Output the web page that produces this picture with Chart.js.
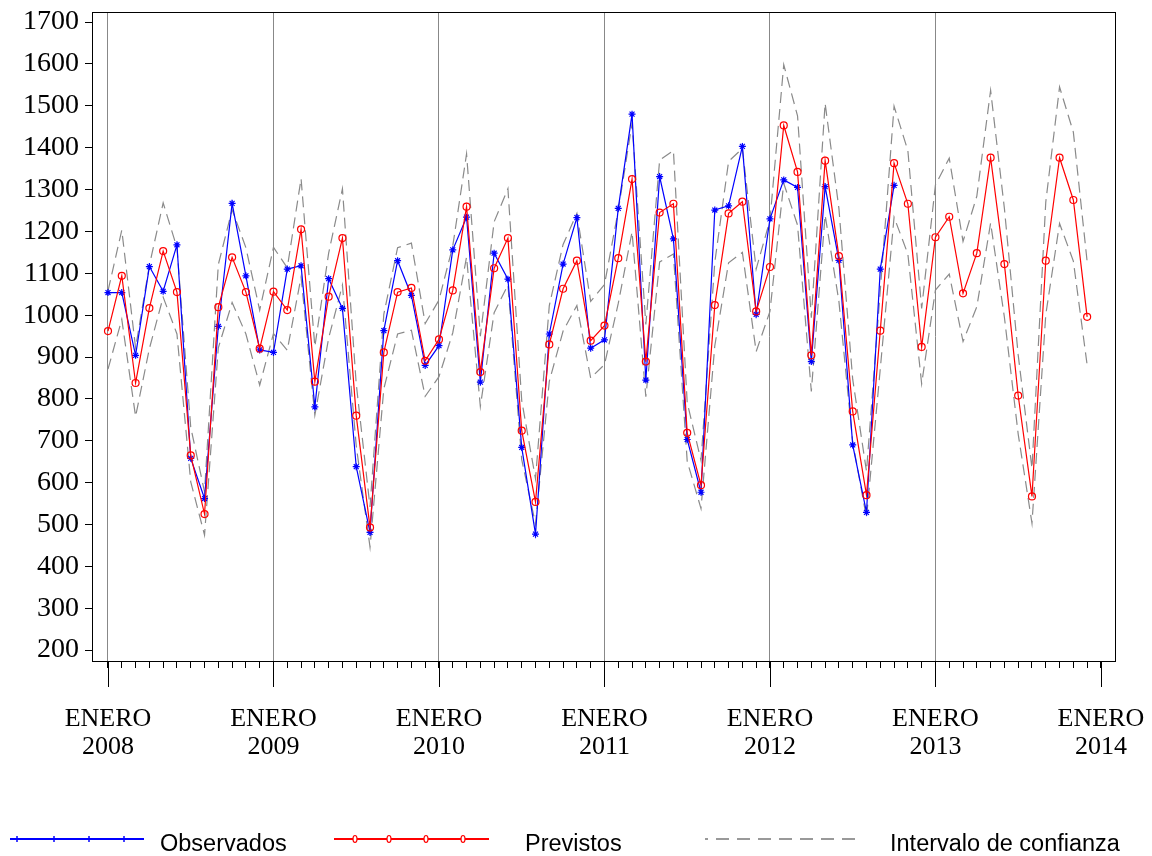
<!DOCTYPE html>
<html>
<head>
<meta charset="utf-8">
<script src="https://cdn.jsdelivr.net/npm/chart.js@4.4.1/dist/chart.umd.min.js"></script>
<style>
  html, body { margin: 0; padding: 0; background: #fff; }
  #contenedor { position: relative; width: 1152px; height: 856px; }
  #leyenda { position: absolute; left: 0; top: 0; width: 1152px; height: 856px; pointer-events: none; }
  #leyenda span { position: absolute; top: 831px; line-height: 24px; font-family: "Liberation Sans", Arial, sans-serif; font-size: 23.5px; color: #000; white-space: nowrap; }
  #leyenda svg { position: absolute; left: 0; top: 0; }
</style>
</head>
<body>
<div id="contenedor">
  <canvas id="grafico"></canvas>
  <div id="leyenda">
    <svg width="1152" height="856">
      <line x1="10" y1="839" x2="144" y2="839" stroke="#0000ff" stroke-width="2"/>
      <g stroke="#0000ff" stroke-width="1.5">
        <line x1="17" y1="836" x2="17" y2="842"/><line x1="14" y1="839" x2="20" y2="839"/>
        <line x1="54" y1="836" x2="54" y2="842"/><line x1="51" y1="839" x2="57" y2="839"/>
        <line x1="89" y1="836" x2="89" y2="842"/><line x1="86" y1="839" x2="92" y2="839"/>
        <line x1="124" y1="836" x2="124" y2="842"/><line x1="121" y1="839" x2="127" y2="839"/>
      </g>
      <line x1="334" y1="839" x2="489" y2="839" stroke="#ff0000" stroke-width="2"/>
      <g stroke="#ff0000" stroke-width="1.2" fill="#fff">
        <ellipse cx="355" cy="839" rx="2" ry="3.5"/>
        <ellipse cx="389" cy="839" rx="2" ry="3.5"/>
        <ellipse cx="426" cy="839" rx="2" ry="3.5"/>
        <ellipse cx="463" cy="839" rx="2" ry="3.5"/>
      </g>
      <line x1="705" y1="839" x2="708" y2="839" stroke="#999" stroke-width="2"/>
      <line x1="716" y1="839" x2="858" y2="839" stroke="#999" stroke-width="2" stroke-dasharray="13 8"/>
    </svg>
    <span style="left:160px">Observados</span>
    <span style="left:525px">Previstos</span>
    <span style="left:890px">Intervalo de confianza</span>
  </div>
</div>
<script>
// valores mensuales desde enero 2008 (indice 0)
const anios = ['2008', '2009', '2010', '2011', '2012', '2013', '2014'];
const mesEtiqueta = 'ENERO';
const ticksY = [200, 300, 400, 500, 600, 700, 800, 900, 1000, 1100, 1200, 1300, 1400, 1500, 1600, 1700];

const observados = [
  1054, 1054, 904, 1116, 1057, 1168, 658, 562, 973, 1267, 1094, 917,
  911, 1110, 1118, 781, 1087, 1016, 638, 481, 963, 1130, 1047, 880,
  927, 1156, 1234, 840, 1148, 1086, 684, 477, 955, 1122, 1233, 921,
  941, 1255, 1480, 845, 1331, 1182, 703, 577, 1251, 1261, 1403, 1002,
  1230, 1323, 1305, 889, 1307, 1131, 690, 529, 1110, 1310
];

const previstos = [
  962, 1094, 838, 1017, 1153, 1055, 665, 525, 1019, 1138, 1055, 920,
  1056, 1012, 1205, 841, 1044, 1184, 760, 493, 911, 1055, 1065, 891,
  942, 1059, 1259, 864, 1112, 1184, 724, 554, 930, 1063, 1130, 939,
  975, 1136, 1325, 889, 1245, 1266, 719, 594, 1024, 1243, 1271, 1009,
  1115, 1453, 1342, 904, 1369, 1141, 770, 570, 963, 1363, 1266, 924,
  1186, 1235, 1052, 1148, 1376, 1122, 808, 567, 1130, 1376, 1275, 996
];

const limiteSuperior = [
  1058, 1203, 922, 1119, 1268, 1161, 732, 578, 1121, 1252, 1161, 1012,
  1162, 1113, 1326, 925, 1148, 1302, 836, 542, 1002, 1161, 1172, 980,
  1036, 1165, 1385, 950, 1223, 1302, 796, 609, 1023, 1169, 1243, 1033,
  1073, 1250, 1458, 978, 1370, 1393, 791, 653, 1126, 1367, 1398, 1110,
  1227, 1598, 1476, 994, 1506, 1255, 847, 627, 1059, 1499, 1393, 1016,
  1311, 1375, 1176, 1284, 1537, 1255, 905, 634, 1270, 1545, 1437, 1128
];

const limiteInferior = [
  871, 990, 758, 920, 1043, 955, 602, 475, 922, 1030, 955, 833,
  956, 916, 1091, 761, 945, 1072, 688, 446, 824, 955, 964, 806,
  853, 958, 1139, 782, 1006, 1072, 655, 501, 842, 962, 1023, 850,
  882, 1028, 1199, 805, 1127, 1146, 651, 538, 927, 1125, 1150, 913,
  1009, 1315, 1215, 818, 1239, 1033, 697, 516, 872, 1234, 1146, 836,
  1060, 1098, 937, 1020, 1220, 995, 716, 503, 1001, 1219, 1129, 881
];

const aPuntos = serie => serie.map((v, i) => ({ x: i, y: v }));

const marcoPlugin = {
  id: 'marco',
  afterDraw(chart) {
    const { ctx, chartArea: a } = chart;
    const x = chart.scales.x;
    ctx.save();
    ctx.strokeStyle = '#000';
    ctx.lineWidth = 1;
    ctx.strokeRect(a.left + 0.5, a.top + 0.5, a.right - a.left, a.bottom - a.top);
    // marcas largas de enero
    anios.forEach((_, i) => {
      const px = Math.round(x.getPixelForValue(i * 12)) + 0.5;
      ctx.beginPath();
      ctx.moveTo(px, a.bottom);
      ctx.lineTo(px, a.bottom + 26);
      ctx.stroke();
    });
    ctx.restore();
  }
};

const lineaGris = {
  borderColor: '#8a8a8a',
  borderWidth: 1.2,
  borderDash: [11, 6],
  pointRadius: 0,
  fill: false,
  tension: 0
};

const config = {
  type: 'line',
  data: {
    datasets: [
      {
        label: 'Previstos',
        data: aPuntos(previstos),
        borderColor: '#ff0000',
        borderWidth: 1.2,
        pointStyle: 'circle',
        pointRadius: 3.5,
        pointBorderColor: '#ff0000',
        pointBackgroundColor: 'rgba(255,255,255,0)',
        pointBorderWidth: 1.2,
        tension: 0,
        order: 1
      },
      {
        label: 'Observados',
        data: aPuntos(observados),
        borderColor: '#0000ff',
        borderWidth: 1.2,
        pointStyle: 'star',
        pointRadius: 3.5,
        pointBorderColor: '#0000ff',
        pointBorderWidth: 1.2,
        tension: 0,
        order: 2
      },
      Object.assign({ label: 'Intervalo de confianza', data: aPuntos(limiteSuperior), order: 3 }, lineaGris),
      Object.assign({ label: 'Intervalo inferior', data: aPuntos(limiteInferior), order: 4 }, lineaGris)
    ]
  },
  options: {
    responsive: true,
    maintainAspectRatio: false,
    animation: false,
    layout: { padding: { top: 12, right: 37, left: 0, bottom: 0 } },
    plugins: {
      legend: { display: false },
      tooltip: { enabled: false }
    },
    scales: {
      x: {
        type: 'linear',
        min: -1.16,
        max: 73.02,
        afterBuildTicks: scale => {
          const t = [];
          for (let i = 0; i <= 72; i++) t.push({ value: i });
          scale.ticks = t;
        },
        afterFit: scale => {
          scale.height = 195;
          scale.paddingLeft = 0;
          scale.paddingRight = 0;
        },
        grid: {
          color: c => (c.tick && c.tick.value % 12 === 0 && c.tick.value < 72) ? '#888' : 'rgba(0,0,0,0)',
          tickColor: '#000',
          tickLength: 7,
          lineWidth: 1
        },
        border: { display: true, color: '#000', width: 1 },
        ticks: {
          autoSkip: false,
          maxRotation: 0,
          minRotation: 0,
          padding: 37,
          color: '#000',
          font: { family: '"Liberation Serif", "Times New Roman", serif', size: 26, lineHeight: 1.08 },
          callback: v => (v % 12 === 0) ? [mesEtiqueta, anios[v / 12]] : ''
        }
      },
      y: {
        min: 174,
        max: 1724,
        afterBuildTicks: scale => { scale.ticks = ticksY.map(v => ({ value: v })); },
        afterFit: scale => {
          scale.width = 92;
          scale.paddingTop = 0;
          scale.paddingBottom = 0;
        },
        grid: { drawOnChartArea: false, tickColor: '#000', tickLength: 7 },
        border: { display: true, color: '#000', width: 1 },
        ticks: {
          padding: 6,
          color: '#000',
          font: { family: '"Liberation Serif", "Times New Roman", serif', size: 28 },
          callback: v => String(v)
        }
      }
    }
  },
  plugins: [marcoPlugin]
};

const grafico = new Chart(document.getElementById('grafico'), config);
</script>
</body>
</html>
